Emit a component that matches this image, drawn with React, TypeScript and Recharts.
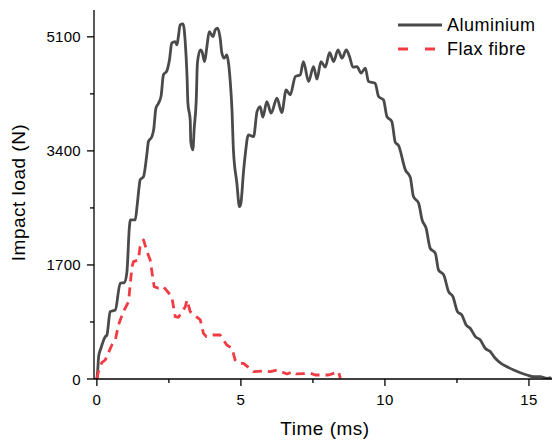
import React from 'react';
import { LineChart, Line, XAxis, YAxis, Legend } from 'recharts';

const alTime = [0, 0.03, 0.06, 0.14, 0.29, 0.35, 0.46, 0.64, 0.81, 0.95, 1.04, 1.13, 1.16, 1.33, 1.4, 1.47, 1.5, 1.62, 1.74, 1.79, 1.91, 1.97, 2.05, 2.14, 2.23, 2.31, 2.43, 2.52, 2.6, 2.72, 2.78, 2.83, 2.89, 2.99, 3.07, 3.13, 3.16, 3.24, 3.26, 3.33, 3.38, 3.45, 3.49, 3.59, 3.65, 3.74, 3.82, 3.9, 4.03, 4.11, 4.19, 4.28, 4.34, 4.42, 4.51, 4.57, 4.63, 4.69, 4.74, 4.86, 4.95, 5.0, 5.09, 5.15, 5.26, 5.44, 5.56, 5.67, 5.76, 5.9, 6.05, 6.25, 6.42, 6.57, 6.71, 6.89, 7.06, 7.17, 7.35, 7.52, 7.64, 7.78, 7.93, 8.08, 8.22, 8.37, 8.51, 8.66, 8.77, 8.89, 9.03, 9.17, 9.32, 9.43, 9.66, 9.78, 9.95, 10.07, 10.24, 10.36, 10.47, 10.71, 10.88, 10.99, 11.17, 11.29, 11.43, 11.57, 11.75, 11.86, 12.04, 12.21, 12.36, 12.52, 12.67, 12.82, 12.96, 13.14, 13.31, 13.48, 13.66, 13.83, 14.03, 14.24, 14.47, 14.7, 14.93, 15.16, 15.39, 15.63, 15.74];
const alLoad = [0, 134, 333, 458, 631, 656, 1004, 1029, 1427, 1436, 1581, 2271, 2371, 2371, 2595, 2878, 2967, 3017, 3366, 3539, 3613, 3713, 4037, 4111, 4220, 4533, 4593, 4757, 5006, 5030, 4981, 5104, 5279, 5294, 5006, 4508, 4111, 3862, 3539, 3415, 3738, 4160, 4708, 4906, 4881, 4732, 4955, 5179, 5104, 5204, 5230, 5080, 4857, 4782, 4831, 4708, 4433, 4011, 3415, 2918, 2569, 2620, 3087, 3340, 3639, 3613, 3986, 4061, 3902, 4135, 3962, 4186, 3971, 4310, 4235, 4508, 4533, 4732, 4433, 4657, 4469, 4732, 4648, 4866, 4732, 4906, 4782, 4906, 4806, 4648, 4657, 4559, 4633, 4433, 4409, 4210, 4160, 3911, 3837, 3527, 3482, 3117, 3005, 2719, 2620, 2371, 2247, 1949, 1874, 1625, 1551, 1302, 1227, 1004, 954, 805, 756, 631, 582, 458, 407, 309, 234, 183, 134, 94, 60, 34, 34, 10, 15];

const flaxTime = [0, 0.05, 0.17, 0.29, 0.52, 0.64, 0.75, 0.92, 1.1, 1.16, 1.22, 1.27, 1.44, 1.5, 1.62, 1.74, 1.85, 1.91, 1.99, 2.14, 2.31, 2.6, 2.66, 2.72, 2.83, 3.07, 3.13, 3.24, 3.45, 3.59, 3.7, 3.8, 4.05, 4.28, 4.51, 4.69, 4.8, 4.92, 5.09, 5.44, 5.74, 6.02, 6.25, 6.6, 6.83, 6.94, 7.41, 7.58, 8.04, 8.22, 8.39, 8.45];
const flaxLoad = [0, 104, 243, 283, 507, 582, 805, 1004, 1153, 1427, 1675, 1749, 1775, 1973, 2073, 1898, 1775, 1600, 1376, 1353, 1376, 1227, 1078, 929, 920, 1078, 1178, 1004, 929, 880, 681, 631, 656, 656, 507, 458, 283, 234, 234, 109, 119, 109, 134, 75, 109, 75, 85, 60, 60, 85, 109, 10];

const yTicks = [0, 850, 1700, 2550, 3400, 4250, 5100];
const xTicks = [0, 2.5, 5, 7.5, 10, 12.5, 15];

const seriesNames = ['Aluminium', 'Flax fibre'];
const alColor = '#4a4a4a';
const flaxColor = '#f23c44';

const alData = alTime.map((t, i) => ({ t, load: alLoad[i] }));
const flaxData = flaxTime.map((t, i) => ({ t, load: flaxLoad[i] }));

const FONT = '"Liberation Sans", Arial, sans-serif';

const YTick = (props: any) => {
  const { x, y, payload } = props;
  const major = payload.value % 1700 === 0;
  return (
    <g>
      <line x1={x - (major ? 7 : 4)} x2={x} y1={y} y2={y} stroke="#000" strokeWidth={1.3} />
      {major && (
        <text x={x - 13} y={y + 5.5} textAnchor="end" fontSize={15} letterSpacing={0.3} fontFamily={FONT} fill="#000">
          {payload.value}
        </text>
      )}
    </g>
  );
};

const XTick = (props: any) => {
  const { x, y, payload } = props;
  const major = payload.value % 5 === 0;
  return (
    <g>
      <line x1={x} x2={x} y1={y} y2={y + (major ? 7 : 4)} stroke="#000" strokeWidth={1.3} />
      {major && (
        <text x={x} y={y + 26} textAnchor="middle" fontSize={15} letterSpacing={0.3} fontFamily={FONT} fill="#000">
          {payload.value}
        </text>
      )}
    </g>
  );
};

const renderLegend = (props: any) => {
  const items = props.payload || [];
  return (
    <svg width={157} height={60} style={{ display: 'block' }}>
      {items.map((it: any, i: number) => {
        const cy = 17 + i * 24;
        const dashed = i === 1;
        return (
          <g key={i}>
            <line
              x1={2}
              x2={dashed ? 39 : 46}
              y1={cy}
              y2={cy}
              stroke={it.color}
              strokeWidth={2.8}
              strokeDasharray={dashed ? '10 17' : undefined}
            />
            <text x={51} y={cy + 6} fontSize={18} letterSpacing={0.5} fontFamily={FONT} fill="#000">
              {it.value}
            </text>
          </g>
        );
      })}
    </svg>
  );
};

export default function App() {
  return (
    <div style={{ position: 'absolute', left: 0, top: 0, width: 553, height: 441, background: '#fff' }}>
      <LineChart width={553} height={441} margin={{ top: 10, right: 1, left: 0, bottom: 32 }}>
        <XAxis
          type="number"
          dataKey="t"
          domain={[-0.1, 15.8]}
          ticks={xTicks}
          allowDataOverflow
          height={30}
          tickSize={0}
          tickMargin={0}
          tickLine={false}
          tick={XTick}
          axisLine={{ stroke: '#000', strokeWidth: 1.3 }}
          interval={0}
          label={(p: any) => {
            const vb = p.viewBox;
            return (
              <text x={vb.x + vb.width / 2 + 2} y={vb.y + 56} textAnchor="middle" fontSize={19} letterSpacing={0.5} fontFamily={FONT} fill="#000">
                Time (ms)
              </text>
            );
          }}
        />
        <YAxis
          type="number"
          domain={[0, 5500]}
          ticks={yTicks}
          allowDataOverflow
          width={94}
          tickSize={0}
          tickMargin={0}
          tickLine={false}
          tick={YTick}
          axisLine={{ stroke: '#000', strokeWidth: 1.3 }}
          interval={0}
          label={(p: any) => {
            const vb = p.viewBox;
            const cx = 25;
            const cy = vb.y + vb.height / 2 - 2;
            return (
              <text x={cx} y={cy} transform={`rotate(-90 ${cx} ${cy})`} textAnchor="middle" fontSize={19} letterSpacing={0.5} fontFamily={FONT} fill="#000">
                Impact load (N)
              </text>
            );
          }}
        />
        <Legend
          layout="vertical"
          align="center"
          verticalAlign="middle"
          content={renderLegend}
          wrapperStyle={{ position: 'absolute', left: 396, top: 8, width: 157, height: 60 }}
        />
        <Line
          data={alData}
          dataKey="load"
          name={seriesNames[0]}
          type="monotone"
          stroke={alColor}
          strokeWidth={2.8}
          strokeLinejoin="round"
          strokeLinecap="round"
          dot={false}
          activeDot={false}
          isAnimationActive={false}
        />
        <Line
          data={flaxData}
          dataKey="load"
          name={seriesNames[1]}
          type="linear"
          stroke={flaxColor}
          strokeWidth={2.8}
          strokeLinejoin="round"
          strokeDasharray="9 6"
          dot={false}
          activeDot={false}
          isAnimationActive={false}
        />
      </LineChart>
    </div>
  );
}
